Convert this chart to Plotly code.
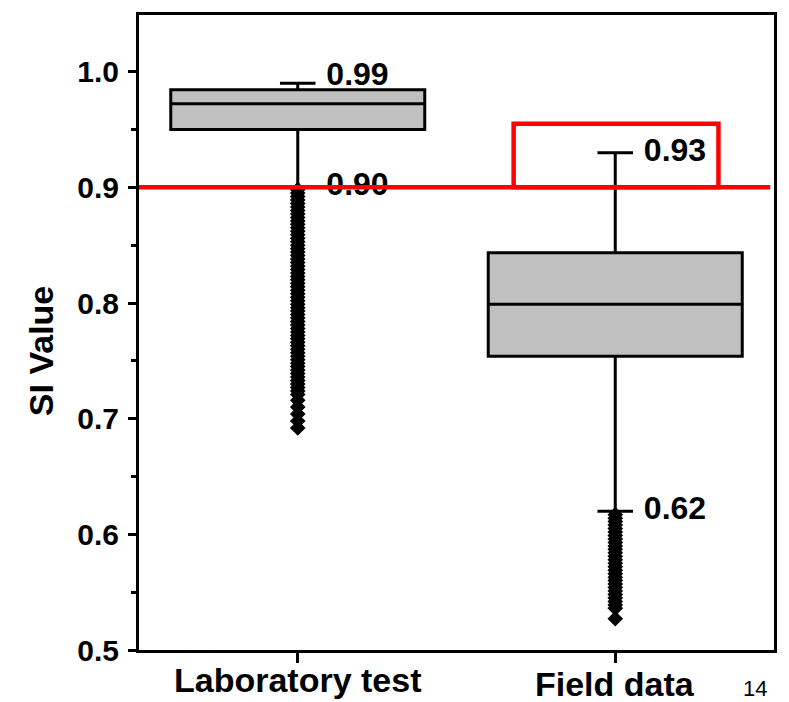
import plotly.graph_objects as go

# Box statistics per data source
categories = ["Laboratory test", "Field data"]
positions = [0, 1]
q1 = [0.950, 0.754]
median = [0.9723, 0.799]
q3 = [0.9843, 0.8435]
lower_fence = [0.90, 0.62]
upper_fence = [0.99, 0.93]

# Outlier values below the lower whisker
lab_outliers = [
    0.898, 0.895, 0.892, 0.889, 0.886, 0.883, 0.880, 0.877, 0.874, 0.871,
    0.868, 0.865, 0.862, 0.859, 0.856, 0.853, 0.850, 0.847, 0.844, 0.841,
    0.838, 0.835, 0.832, 0.829, 0.826, 0.823, 0.820, 0.817, 0.814, 0.811,
    0.808, 0.805, 0.802, 0.799, 0.796, 0.793, 0.790, 0.787, 0.784, 0.781,
    0.778, 0.775, 0.772, 0.769, 0.766, 0.763, 0.760, 0.757, 0.754, 0.751,
    0.748, 0.745, 0.742, 0.739, 0.736, 0.733, 0.730, 0.727, 0.724, 0.721,
    0.716, 0.710, 0.704, 0.698, 0.692,
]
field_outliers = [
    0.617, 0.614, 0.611, 0.608, 0.605, 0.602, 0.599, 0.596, 0.593, 0.590,
    0.587, 0.584, 0.581, 0.578, 0.575, 0.572, 0.569, 0.566, 0.563, 0.560,
    0.557, 0.554, 0.551, 0.548, 0.545, 0.542, 0.539, 0.536, 0.527,
]

# Whisker end labels
label_text = ["0.99", "0.90", "0.93", "0.62"]
label_pos = [0, 0, 1, 1]
label_val = [upper_fence[0] + 0.005, lower_fence[0], upper_fence[1], lower_fence[1]]

threshold = 0.90
highlight_top = 0.955

FONT = "Liberation Sans, Arial, sans-serif"

fig = go.Figure()

for i in range(len(categories)):
    fig.add_trace(go.Box(
        x=[positions[i]],
        q1=[q1[i]], median=[median[i]], q3=[q3[i]],
        lowerfence=[lower_fence[i]], upperfence=[upper_fence[i]],
        width=0.8, whiskerwidth=0.14,
        fillcolor="#c0c0c0",
        line=dict(color="black", width=3),
        boxpoints=False, showlegend=False, hoverinfo="skip",
    ))

for pos, vals in zip(positions, [lab_outliers, field_outliers]):
    fig.add_trace(go.Scatter(
        x=[pos] * len(vals), y=vals, mode="markers",
        marker=dict(symbol="diamond", size=12, color="black", line=dict(width=0)),
        showlegend=False, hoverinfo="skip",
    ))

fig.add_trace(go.Scatter(
    x=[p + 0.09 for p in label_pos], y=label_val, text=label_text,
    mode="text", textposition="middle right",
    textfont=dict(family=FONT, size=32, color="black", weight="bold"),
    showlegend=False, hoverinfo="skip",
))

# Threshold line and highlighted region above it
fig.add_shape(type="line", xref="paper", yref="y", x0=0, x1=0.994,
              y0=threshold, y1=threshold, layer="above",
              line=dict(color="#ff0000", width=4.5))
fig.add_shape(type="rect", xref="x", yref="y", x0=0.68, x1=1.325,
              y0=threshold, y1=highlight_top, layer="above",
              line=dict(color="#ff0000", width=4.5))

# Category labels and y-axis title
label_y = [-0.048, -0.054]
for pos, cat, ly in zip(positions, categories, label_y):
    fig.add_annotation(x=pos, y=ly, xref="x", yref="paper", text=cat,
                       showarrow=False, xanchor="center", yanchor="middle",
                       font=dict(family=FONT, size=34, color="black", weight="bold"))
fig.add_annotation(x=-0.154, y=0.471, xref="paper", yref="paper", text="SI Value",
                   textangle=-90, showarrow=False, xanchor="center", yanchor="middle",
                   font=dict(family=FONT, size=34, color="black", weight="bold"))
fig.add_annotation(x=0.97, y=-0.06, xref="paper", yref="paper", text="14",
                   showarrow=False, xanchor="center", yanchor="middle",
                   font=dict(family=FONT, size=22, color="black"))

fig.update_xaxes(
    range=[-0.5, 1.5], tickvals=positions, showticklabels=False,
    ticks="outside", ticklen=10, tickwidth=3, tickcolor="black",
    showline=True, linewidth=3, linecolor="black", mirror=True,
    showgrid=False, zeroline=False,
)
fig.update_yaxes(
    range=[0.5, 1.049], tickvals=[0.5, 0.6, 0.7, 0.8, 0.9, 1.0], tickformat=".1f",
    ticks="outside", ticklen=8, tickwidth=3, tickcolor="black",
    minor=dict(dtick=0.05, tick0=0.5, ticks="outside", ticklen=5, tickwidth=3,
               tickcolor="black", showgrid=False),
    ticklabelstandoff=3,
    tickfont=dict(family=FONT, size=30, color="black", weight="bold"),
    showline=True, linewidth=3, linecolor="black", mirror=True,
    showgrid=False, zeroline=False,
)
fig.update_layout(
    width=789, height=702,
    margin=dict(l=139, r=12, t=13, b=52),
    paper_bgcolor="white", plot_bgcolor="white",
    showlegend=False,
)

fig.write_html("out.html")
